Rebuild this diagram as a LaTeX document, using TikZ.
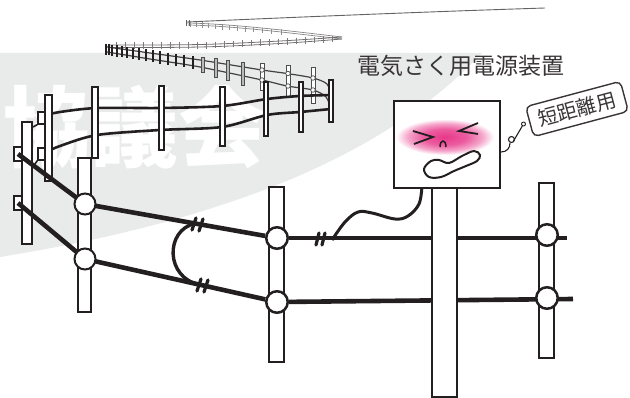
\documentclass[tikz,border=0pt]{standalone}
\usepackage{fontspec}
\newfontfamily\jp{Noto Sans CJK JP}
\usetikzlibrary{calc}
\definecolor{bggray}{HTML}{E9EAEA}
\definecolor{ink}{HTML}{231F20}
\definecolor{blushpink}{HTML}{E8388A}
\pgfdeclareradialshading{blush}{\pgfpointorigin}{color(0bp)=(blushpink); color(11bp)=(blushpink!82!white); color(19bp)=(blushpink!45!white); color(25bp)=(white); color(50bp)=(white)}

\begin{document}
\begin{tikzpicture}[x=1pt,y=-1pt,
  post/.style={draw=ink, fill=white, line width=1.8pt, inner sep=0pt},
  knob/.style={circle, draw=ink, fill=white, line width=2pt, inner sep=0pt, minimum size=#1},
  knob/.default=21pt,
  wire/.style={draw=ink, line width=4.6pt},
  crimp/.style={draw=ink, line width=3.2pt, line cap=round},
  midwire/.style={draw=ink, line width=2.6pt},
  midpost/.style={draw=ink, fill=white, line width=1.2pt, inner sep=0pt},
  farwire/.style={draw=ink!85, line width=1.2pt},
  farpost/.style={draw=ink!80, fill=white, line width=0.8pt, inner sep=0pt},
  farknob/.style={circle, draw=ink!80, fill=white, line width=0.7pt, inner sep=0pt, minimum size=4.5pt},
  tickmark/.style={draw=ink, line width=2.2pt},
  thin/.style={draw=ink!70, line width=0.8pt}
]
\useasboundingbox (0,0) rectangle (630,398);

% ---- background band and watermark ----
\fill[bggray] (0,53) -- (482,53) .. controls (400,140) and (260,215) .. (0,257) -- cycle;
\node[font=\jp\bfseries\fontsize{88}{88}\selectfont, text=white, inner sep=0pt] (wm) at (135,127) {協議会};

% ---- farthest runs of the fence ----
\draw[ink!70, line width=0.9pt] (187,22) .. controls (300,17) and (420,12) .. (545,8);
\draw[ink!55, line width=0.7pt] (342,37) .. controls (290,31) and (235,24) .. (187,23);
\draw[ink!55, line width=0.7pt] (342,39) .. controls (290,33) and (235,26) .. (188,25);
\foreach \x in {190,196,202,208,215,222,229,237,245,253,262,271,281}
  \draw[thin, ink!50] (\x,{23+(\x-187)*0.0903-2}) -- (\x,{23+(\x-187)*0.0903+3.5});
\draw[thin] (186,20) -- (186,26) (189,20) -- (189,26);

\draw[ink!65, line width=0.8pt] plot[smooth, tension=0.6] coordinates {(108,45) (200,44.5) (280,41) (342,37)};
\draw[ink!65, line width=0.8pt] plot[smooth, tension=0.6] coordinates {(108,47.5) (200,47) (280,43.5) (342,39)};
\foreach \x in {116,125,134,143,152,161,170,179,188,197,206,215,224,233,242,251,260,269,278,287,296,305,314,323,332}
  \draw[thin, ink!60] (\x,{45-max(0,\x-200)*0.05-2.5}) -- (\x,{45-max(0,\x-200)*0.05+4});

% ---- far fence row ----
\draw[farwire] plot[smooth, tension=0.5] coordinates {(107,47) (150,53) (200,60) (262,70) (287,73.5) (313,78) (327,84) (331,95)};
\draw[farwire] plot[smooth, tension=0.5] coordinates {(107,52) (150,59) (200,67) (262,80) (287,86) (313,90) (326,97) (331,109)};
\foreach \x in {106,109,112,117,122,127,133,139,146,153,160,168,176,184,193}
  \draw[tickmark] (\x,{47+0.14*(\x-107)-3}) -- (\x,{52+0.161*(\x-107)+3});
\foreach \i/\x/\t/\b/\w in {1/203/57/72/3, 2/216/58/77/3, 3/228/60/80/3, 4/243/62/85/3.5}
  \node[farpost, fill=gray!55, minimum width=\w pt, minimum height={(\b-\t)*1pt}] (f\i) at (\x,{(\t+\b)/2}) {};
\foreach \i/\x/\t/\b/\u/\l in {5/262/63/90/70/80, 6/288/65/97/73.5/86, 7/313/67/103/78/90} {
  \node[farpost, minimum width=4pt, minimum height={(\b-\t)*1pt}] (f\i) at (\x,{(\t+\b)/2}) {};
  \node[farknob] (f\i u) at (\x,\u) {};
  \node[farknob] (f\i l) at (\x,\l) {};
}

% ---- middle fence row ----
\draw[midwire] plot[smooth, tension=0.5] coordinates {(42,116) (60,112) (97,108) (160,108) (222,106) (267,99) (300,96) (331,95)};
\draw[midwire] plot[smooth, tension=0.5] coordinates {(42,154) (60,146) (97,135) (160,130) (222,127) (267,115) (300,112) (331,109)};
\foreach \i/\x/\t/\b/\w in {1/95/87/158/6, 2/161.5/86/150/5, 3/222.5/87/146/5, 4/266/82/136/4, 5/301/82/132/4, 6/331/80/122/4}
  \node[midpost, minimum width=\w pt, minimum height={(\b-\t)*1pt}] (m\i) at (\x,{(\t+\b)/2}) {};

% ---- corner posts ----
\node[post, minimum width=10pt, minimum height=122pt] (pA) at (27,183) {};
\node[post, minimum width=7pt, minimum height=86pt] (pB) at (48.5,138) {};
\node[post, line width=1.4pt, minimum width=7pt, minimum height=12pt] (iB1) at (41.5,118) {};
\node[post, line width=1.4pt, minimum width=7pt, minimum height=12pt] (iB2) at (41.5,154) {};
\draw[draw=ink, line width=1.6pt] (iB1.south west) -- (pA.north east |- 0,127);
\draw[draw=ink, line width=1.6pt] (iB2.south west) -- (pA.north east |- 0,167);
\node[post, line width=1.5pt, minimum width=8pt, minimum height=14pt] (iA1) at (18,154) {};
\node[post, line width=1.5pt, minimum width=8pt, minimum height=14pt] (iA2) at (18,203) {};

% ---- front posts ----
\node[post, minimum width=13pt, minimum height=154pt] (pC) at (84.5,235) {};
\node[post, minimum width=15pt, minimum height=175pt] (pD) at (276.5,274.5) {};
\node[post, minimum width=15pt, minimum height=175pt] (pF) at (546.5,270.5) {};

\node[knob=20pt] (kC1) at (85,204) {};
\node[knob=20pt] (kC2) at (85,259) {};
\node[knob=22pt] (kD1) at (277,238) {};
\node[knob=22pt] (kD2) at (277,302) {};
\node[knob=22pt] (kF1) at (547,235) {};
\node[knob=22pt] (kF2) at (547,298) {};
\coordinate (endU) at (567,238);
\coordinate (endL) at (573,299);
\coordinate (s1) at (195,223.5);
\coordinate (s2) at (200,284.8);

% ---- front wires ----
\draw[wire] (iA1.center) -- (kC1);
\draw[wire] (iA2.center) -- (kC2);
\draw[wire] (kC1) -- (kD1);
\draw[wire] (kC2) -- (kD2);
\draw[wire] (kD1) -- (endU);
\draw[wire] (kD2) -- (endL);
\draw[wire, line width=3.4pt] (s1) .. controls (165,230) and (165,278) .. (s2);
\draw[crimp] (192,230) -- (196,218) (199,231) -- (203,219);
\draw[crimp] (197,291) -- (201,279) (204,292) -- (208,280);
\draw[crimp] (316,245) -- (319,233) (322,245) -- (325,233);

% redraw knobs above the wires
\foreach \k in {kC1,kC2,kD1,kD2,kF1,kF2}
  \node[knob=21pt] at (\k) {};

% ---- energizer on its post ----
\node[post, minimum width=25pt, minimum height=211pt] (pE) at (444.5,291.5) {};
\draw[ink, line width=3pt] plot[smooth, tension=0.6] coordinates {(422,186) (419,204) (408,216) (395,219) (372,213) (358,212) (345,222) (332,240)};
\node[draw=ink, line width=2pt, fill=white, minimum width=106pt, minimum height=87pt, inner sep=0pt] (unit) at (447,144.5) {};
\shade[shading=blush] (445,137) ellipse [x radius=49, y radius=18];
\draw[ink, line width=1.8pt, line join=miter] (413,131) -- (433,137) -- (414,144);
\draw[ink, line width=1.8pt, line join=miter] (478,123) -- (459,131) -- (478,134);
\draw[ink, line width=1.5pt] (440,147) .. controls (440,139) and (446,139) .. (446,147);
\draw[ink, line width=2pt] plot[smooth cycle, tension=0.6] coordinates {(424,169) (431,161) (439,160) (449,163) (462,156) (474,151) (480,155) (477,161) (466,166) (454,171) (441,177) (429,177)};

% ---- tag ----
\node[draw=ink!90, line width=1.4pt, rounded corners=5pt, rotate=15, minimum width=98pt, minimum height=31pt, inner sep=0pt, font=\jp\fontsize{20}{20}\selectfont, text=ink!90] (tag) at (577,109) {短距離用};
\coordinate (t0) at (unit.east |- 0,152);
\node[circle, draw=ink, fill=white, line width=0.9pt, inner sep=0pt, minimum size=4pt] (tagdot) at (523.5,124) {};
\draw[ink, line width=1.1pt] (t0) .. controls (507,152) and (510,148) .. (510,143);
\draw[ink, line width=1.1pt] (511.5,139.5) circle (3pt);
\draw[ink, line width=1.1pt] (513.5,141) -- (tagdot);

% ---- title ----
\node[font=\jp\fontsize{23}{23}\selectfont, text=ink!90, inner sep=0pt] (title) at (461,66) {電気さく用電源装置};
\end{tikzpicture}
\end{document}
